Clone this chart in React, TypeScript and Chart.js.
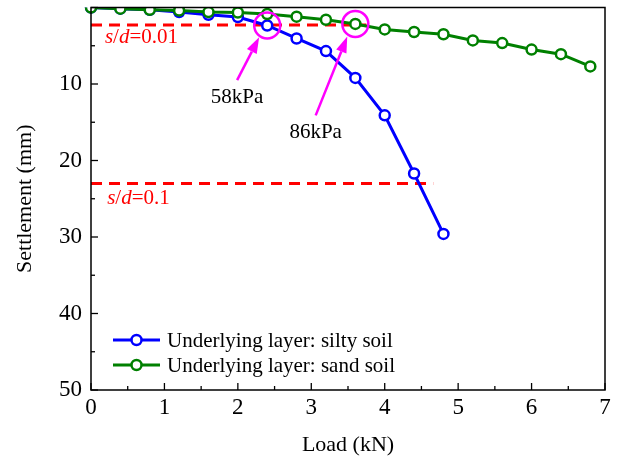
import React, { useEffect, useRef } from "react";
import { Chart, registerables } from "chart.js";

Chart.register(...registerables);

// ---- Data ----
const siltyLoad = [0, 0.4, 0.8, 1.2, 1.6, 2.0, 2.4, 2.8, 3.2, 3.6, 4.0, 4.4, 4.8];
const siltySettlement = [0, 0.15, 0.3, 0.6, 0.95, 1.25, 2.35, 4.05, 5.7, 9.2, 14.1, 21.7, 29.6];
const sandLoad = [0, 0.4, 0.8, 1.2, 1.6, 2.0, 2.4, 2.8, 3.2, 3.6, 4.0, 4.4, 4.8, 5.2, 5.6, 6.0, 6.4, 6.8];
const sandSettlement = [0, 0.15, 0.3, 0.4, 0.6, 0.65, 0.85, 1.2, 1.6, 2.15, 2.87, 3.2, 3.5, 4.3, 4.65, 5.5, 6.1, 7.7];

const seriesLabels = ["Underlying layer: silty soil", "Underlying layer: sand soil"];
const seriesColors = ["#0000FF", "#008000"];

// criterion lines: settlement value, end load
const criterionValues = [2.3, 23];
const criterionEnds = [3.75, 4.66];
const criterionPrefix = ["s", "s"];
const criterionValueText = ["=0.01", "=0.1"];
const criterionLabelX = [0.19, 0.22];
const criterionLabelY = [3.9, 24.9];

// highlighted points (load, settlement), arrows (tail -> tip) and labels
const markX = [2.4, 3.6];
const markY = [2.35, 2.15];
const arrowTailX = [1.99, 3.06];
const arrowTailY = [9.5, 14.1];
const arrowTipX = [2.29, 3.49];
const arrowTipY = [3.9, 3.8];
const markLabels = ["58kPa", "86kPa"];
const markLabelX = [1.99, 3.06];
const markLabelY = [11.75, 16.3];

const xTicks = [0, 1, 2, 3, 4, 5, 6, 7];
const yTicks = [10, 20, 30, 40, 50];

const FONT = "'Liberation Serif', 'Times New Roman', serif";

const decorPlugin = {
  id: "decor",
  beforeDatasetsDraw(chart: any) {
    const { ctx, chartArea, scales } = chart;
    const xs = scales.x, ys = scales.y;
    ctx.save();
    ctx.beginPath();
    ctx.rect(chartArea.left, chartArea.top, chartArea.right - chartArea.left, chartArea.bottom - chartArea.top);
    ctx.clip();
    ctx.strokeStyle = "#FF0000";
    ctx.lineWidth = 3;
    ctx.setLineDash([11, 7]);
    criterionValues.forEach((v, i) => {
      const y = ys.getPixelForValue(v);
      ctx.beginPath();
      ctx.moveTo(xs.getPixelForValue(0), y);
      ctx.lineTo(xs.getPixelForValue(criterionEnds[i]), y);
      ctx.stroke();
    });
    ctx.restore();
  },
  afterDraw(chart: any) {
    const { ctx, chartArea, scales } = chart;
    const xs = scales.x, ys = scales.y;
    const { left, right, top, bottom } = chartArea;
    ctx.save();
    // frame
    ctx.strokeStyle = "#000";
    ctx.lineWidth = 1.5;
    ctx.setLineDash([]);
    ctx.strokeRect(left, top, right - left, bottom - top);
    // inward ticks
    ctx.lineWidth = 1.3;
    for (let v = 0; v <= 7.0001; v += 0.5) {
      const x = xs.getPixelForValue(v);
      const len = Math.abs(v - Math.round(v)) < 1e-6 ? 7 : 4;
      ctx.beginPath();
      ctx.moveTo(x, bottom);
      ctx.lineTo(x, bottom - len);
      ctx.stroke();
    }
    for (let v = 0; v <= 50.0001; v += 5) {
      const y = ys.getPixelForValue(v);
      const len = v % 10 === 0 ? 7 : 4;
      ctx.beginPath();
      ctx.moveTo(left, y);
      ctx.lineTo(left + len, y);
      ctx.stroke();
    }
    // criterion labels
    ctx.fillStyle = "#FF0000";
    ctx.textBaseline = "middle";
    ctx.textAlign = "left";
    criterionValues.forEach((_, i) => {
      let x = xs.getPixelForValue(criterionLabelX[i]);
      const y = ys.getPixelForValue(criterionLabelY[i]);
      ctx.font = `italic 21px ${FONT}`;
      ctx.fillText(criterionPrefix[i], x, y);
      x += ctx.measureText(criterionPrefix[i]).width;
      ctx.font = `21px ${FONT}`;
      ctx.fillText("/", x, y);
      x += ctx.measureText("/").width;
      ctx.font = `italic 21px ${FONT}`;
      ctx.fillText("d", x, y);
      x += ctx.measureText("d").width;
      ctx.font = `21px ${FONT}`;
      ctx.fillText(criterionValueText[i], x, y);
    });
    // magenta circles and arrows
    ctx.strokeStyle = "#FF00FF";
    ctx.fillStyle = "#FF00FF";
    ctx.lineWidth = 2.5;
    markX.forEach((mx, i) => {
      const cx = xs.getPixelForValue(mx);
      const cy = ys.getPixelForValue(markY[i]);
      ctx.beginPath();
      ctx.arc(cx, cy, 13, 0, Math.PI * 2);
      ctx.stroke();
      const tx = xs.getPixelForValue(arrowTailX[i]);
      const ty = ys.getPixelForValue(arrowTailY[i]);
      const hx = xs.getPixelForValue(arrowTipX[i]);
      const hy = ys.getPixelForValue(arrowTipY[i]);
      const ang = Math.atan2(hy - ty, hx - tx);
      const headLen = 16, headW = 5.5;
      const bx = hx - headLen * Math.cos(ang);
      const by = hy - headLen * Math.sin(ang);
      ctx.beginPath();
      ctx.moveTo(tx, ty);
      ctx.lineTo(bx, by);
      ctx.stroke();
      ctx.beginPath();
      ctx.moveTo(hx, hy);
      ctx.lineTo(bx + headW * Math.sin(ang), by - headW * Math.cos(ang));
      ctx.lineTo(bx - headW * Math.sin(ang), by + headW * Math.cos(ang));
      ctx.closePath();
      ctx.fill();
      ctx.save();
      ctx.fillStyle = "#000";
      ctx.font = `21px ${FONT}`;
      ctx.textAlign = "center";
      ctx.textBaseline = "middle";
      ctx.fillText(markLabels[i], xs.getPixelForValue(markLabelX[i]), ys.getPixelForValue(markLabelY[i]));
      ctx.restore();
    });
    // legend
    const lx0 = 113, lx1 = 160, ly = [340, 365];
    seriesLabels.forEach((lab, i) => {
      ctx.strokeStyle = seriesColors[i];
      ctx.lineWidth = 3;
      ctx.beginPath();
      ctx.moveTo(lx0, ly[i]);
      ctx.lineTo(lx1, ly[i]);
      ctx.stroke();
      ctx.fillStyle = "#fff";
      ctx.lineWidth = 2.5;
      ctx.beginPath();
      ctx.arc((lx0 + lx1) / 2, ly[i], 5, 0, Math.PI * 2);
      ctx.fill();
      ctx.stroke();
      ctx.fillStyle = "#000";
      ctx.font = `21px ${FONT}`;
      ctx.textAlign = "left";
      ctx.textBaseline = "middle";
      ctx.fillText(lab, 167, ly[i] + 1);
    });
    ctx.restore();
  },
};

export default function App() {
  const canvasRef = useRef<HTMLCanvasElement | null>(null);

  useEffect(() => {
    document.body.style.margin = "0";
    const canvas = canvasRef.current;
    if (!canvas) return;
    const mk = (xsArr: number[], ysArr: number[]) => xsArr.map((x, i) => ({ x, y: ysArr[i] }));
    const clipArea = { left: 12, top: 0, right: 12, bottom: 12 };
    const chart = new Chart(canvas, {
      type: "line",
      data: {
        datasets: [
          {
            label: seriesLabels[0],
            data: mk(siltyLoad, siltySettlement),
            borderColor: seriesColors[0],
            backgroundColor: "#fff",
            pointBorderColor: seriesColors[0],
            pointBackgroundColor: "#fff",
            borderWidth: 3,
            pointRadius: 5,
            pointBorderWidth: 2.5,
            clip: clipArea,
            order: 1,
          } as any,
          {
            label: seriesLabels[1],
            data: mk(sandLoad, sandSettlement),
            borderColor: seriesColors[1],
            backgroundColor: "#fff",
            pointBorderColor: seriesColors[1],
            pointBackgroundColor: "#fff",
            borderWidth: 3,
            pointRadius: 5,
            pointBorderWidth: 2.5,
            clip: clipArea,
            order: 0,
          } as any,
        ],
      },
      options: {
        responsive: false,
        animation: false,
        layout: { padding: { left: 0, right: 13, top: 7, bottom: 0 } },
        plugins: { legend: { display: false }, tooltip: { enabled: false } },
        scales: {
          x: {
            type: "linear",
            min: 0,
            max: 7,
            afterFit: (s: any) => { s.height = 71; s.paddingLeft = 0; s.paddingRight = 0; },
            afterBuildTicks: (s: any) => { s.ticks = xTicks.map((v) => ({ value: v })); },
            grid: { display: false, drawTicks: false },
            border: { display: false },
            ticks: {
              color: "#000",
              font: { family: FONT, size: 23 },
              padding: 4,
              maxRotation: 0,
              autoSkip: false,
            },
            title: {
              display: true,
              text: "Load (kN)",
              color: "#000",
              font: { family: FONT, size: 22 },
              padding: { top: 0, bottom: 3 },
            },
          },
          y: {
            type: "linear",
            min: 0,
            max: 50,
            reverse: true,
            afterFit: (s: any) => { s.width = 91; s.paddingTop = 0; s.paddingBottom = 0; },
            afterBuildTicks: (s: any) => { s.ticks = yTicks.map((v) => ({ value: v })); },
            grid: { display: false, drawTicks: false },
            border: { display: false },
            ticks: {
              color: "#000",
              font: { family: FONT, size: 23 },
              padding: 9,
              autoSkip: false,
            },
            title: {
              display: true,
              text: "Settlement (mm)",
              color: "#000",
              font: { family: FONT, size: 22 },
              padding: { top: 12, bottom: 0 },
            },
          },
        },
      },
      plugins: [decorPlugin],
    } as any);
    return () => chart.destroy();
  }, []);

  return (
    <div style={{ width: 618, height: 461, background: "#fff" }}>
      <canvas ref={canvasRef} width={618} height={461} style={{ display: "block" }} />
    </div>
  );
}
